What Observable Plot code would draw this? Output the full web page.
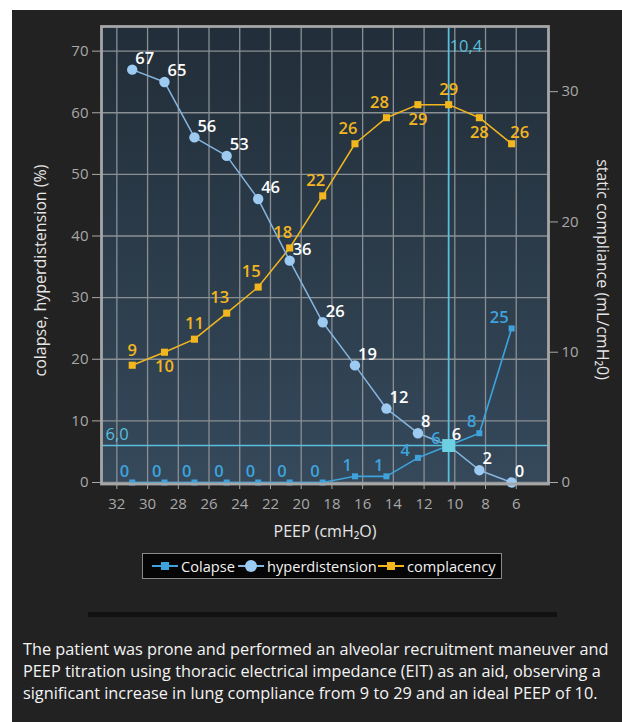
<!DOCTYPE html>
<html>
<head>
<meta charset="utf-8">
<script src="https://cdn.jsdelivr.net/npm/d3@7"></script>
<script src="https://cdn.jsdelivr.net/npm/@observablehq/plot@0.6"></script>
<style>
  html, body { margin: 0; padding: 0; background: #ffffff; }
  body { width: 622px; height: 722px; position: relative; overflow: hidden; font-family: "Open Sans", "Noto Sans", sans-serif; }
  #panel { position: absolute; left: 12px; top: 10px; width: 610px; height: 712px; background: #222222; }
  #chart { position: absolute; left: 0; top: 0; }
  #legend { position: absolute; left: 130px; top: 543px; width: 358px; height: 24px; background: #050505; border: 1px solid #8a8a8a; color: #f2f2f2; font-size: 14.6px; }
  #legend .item { position: absolute; top: 0; height: 24px; display: flex; align-items: center; }
  #legend .item svg { margin-right: 3px; }
  #bar { position: absolute; left: 76px; top: 602px; width: 469px; height: 5px; background: #111111; }
  #caption { position: absolute; left: 11px; top: 628px; width: 600px; color: #f4f4f4; font-size: 16.3px; line-height: 22px; white-space: nowrap; }
</style>
</head>
<body>
<div id="panel">
  <div id="chart"></div>
  <div id="legend"></div>
  <div id="bar"></div>
  <div id="caption"></div>
</div>
<script>
// ---- data ----
const peep = [31, 28.9, 26.95, 24.85, 22.8, 20.75, 18.6, 16.5, 14.45, 12.4, 10.4, 8.4, 6.3];
const colapse = [0, 0, 0, 0, 0, 0, 0, 1, 1, 4, 6, 8, 25];
const hyperdistension = [67, 65, 56, 53, 46, 36, 26, 19, 12, 8, 6, 2, 0];
const complacency = [9, 10, 11, 13, 15, 18, 22, 26, 28, 29, 29, 28, 26];
const xTicks = [32, 30, 28, 26, 24, 22, 20, 18, 16, 14, 12, 10, 8, 6];
const leftTicks = [0, 10, 20, 30, 40, 50, 60, 70];
const rightTicks = [0, 10, 20, 30];
const idealPeep = 10.4;
const idealLevel = 6.0;
const seriesNames = ["Colapse", "hyperdistension", "complacency"];
const xLabel = "PEEP (cmH\u2082O)";
const leftLabel = "colapse, hyperdistension (%)";
const rightLabel = "static compliance (mL/cmH\u20820)";
const captionText = ["The patient was prone and performed an alveolar recruitment maneuver and",
  "PEEP titration using thoracic electrical impedance (EIT) as an aid, observing a",
  "significant increase in lung compliance from 9 to 29 and an ideal PEEP of 10."];

// ---- build ----
const leftMax = 74, rightMax = 35;
const k = leftMax / rightMax; // right axis -> left axis units
const rows = peep.map((p, i) => ({peep: p, colapse: colapse[i], hyper: hyperdistension[i], comp: complacency[i], i}));

// label placement groups (layout only)
const compBelow = new Set([1, 9, 11]);
const compAboveLeft = new Set([3, 4, 5, 6, 7, 8]);
const compAboveRight = new Set([12]);
const compAbove = rows.filter(d => !compBelow.has(d.i) && !compAboveLeft.has(d.i) && !compAboveRight.has(d.i));
const colapseFarLeft = new Set([9, 10]);

const cBlue = "#3ea3dc", cHyper = "#9ccaf0", cHyperLine = "#86b6e0", cGold = "#f3b61f", cCyan = "#58bfdc";
const comma = v => v.toFixed(1).replace(".", ",");
const LF = 16.5; // label font size
const LW = 600;  // label font weight

const chart = Plot.plot({
  width: 610,
  height: 530,
  marginLeft: 89,
  marginRight: 74,
  marginTop: 16,
  marginBottom: 58,
  style: {background: "transparent", fontFamily: "'Open Sans', 'Noto Sans', sans-serif", fontSize: "15px", overflow: "visible"},
  x: {domain: [33, 3.9]},
  y: {domain: [0, leftMax]},
  marks: [
    Plot.frame({fill: "url(#plotbg)", stroke: "none"}),
    Plot.gridX(xTicks, {stroke: "#8a8f94", strokeOpacity: 1, strokeWidth: 1.3}),
    Plot.gridY(leftTicks, {stroke: "#8a8f94", strokeOpacity: 1, strokeWidth: 1.3}),
    Plot.axisX({ticks: xTicks, tickSize: 7, tickPadding: 9, color: "#a8a8a8", label: null, fontSize: 15}),
    Plot.axisY({ticks: leftTicks, tickSize: 9, tickPadding: 4, color: "#a8a8a8", label: null, fontSize: 15}),
    Plot.axisY({anchor: "right", ticks: rightTicks.map(v => v * k), tickFormat: v => Math.round(v / k), tickSize: 9, tickPadding: 4, color: "#a8a8a8", label: null, fontSize: 15}),
    // reference lines
    Plot.ruleY([idealLevel], {stroke: cCyan, strokeWidth: 1.6}),
    Plot.ruleX([idealPeep], {stroke: cCyan, strokeWidth: 1.8}),
    Plot.text([idealLevel], {y: d => d, frameAnchor: "left", text: d => comma(d), textAnchor: "start", dx: 4, dy: -11, fill: cCyan, fontSize: LF, fontWeight: 500}),
    Plot.text([idealPeep], {x: d => d, frameAnchor: "top", lineAnchor: "middle", text: d => comma(d), textAnchor: "start", dx: 1, dy: 20, fill: cCyan, fontSize: LF, fontWeight: 500}),
    // series lines
    Plot.line(rows, {x: "peep", y: d => d.comp * k, stroke: cGold, strokeWidth: 1.5}),
    Plot.line(rows, {x: "peep", y: "hyper", stroke: cHyperLine, strokeWidth: 1.5}),
    Plot.line(rows, {x: "peep", y: "colapse", stroke: cBlue, strokeWidth: 1.6}),
    // markers
    Plot.dot(rows, {x: "peep", y: d => d.comp * k, symbol: "square", r: 4, fill: cGold}),
    Plot.dot(rows, {x: "peep", y: "hyper", r: 5.2, fill: cHyper}),
    Plot.dot(rows, {x: "peep", y: "colapse", symbol: "square", r: 3.4, fill: cBlue}),
    Plot.dot([{x: idealPeep, y: idealLevel}], {x: "x", y: "y", symbol: "square", r: 7.3, fill: "#6ccfe2"}),
    // labels
    Plot.text(compAbove, {x: "peep", y: d => d.comp * k, text: "comp", dy: -15, fill: cGold, fontSize: LF, fontWeight: LW}),
    Plot.text(rows.filter(d => compAboveLeft.has(d.i)), {x: "peep", y: d => d.comp * k, text: "comp", dx: -7, dy: -15, fill: cGold, fontSize: LF, fontWeight: LW}),
    Plot.text(rows.filter(d => compAboveRight.has(d.i)), {x: "peep", y: d => d.comp * k, text: "comp", dx: 8, dy: -11, fill: cGold, fontSize: LF, fontWeight: LW}),
    Plot.text(rows.filter(d => compBelow.has(d.i)), {x: "peep", y: d => d.comp * k, text: "comp", dy: 15, fill: cGold, fontSize: LF, fontWeight: LW}),
    Plot.text(rows, {x: "peep", y: "hyper", text: "hyper", textAnchor: "start", dx: 3, dy: -11, fill: "#ffffff", fontSize: LF, fontWeight: LW}),
    Plot.text(rows.filter(d => !colapseFarLeft.has(d.i)), {x: "peep", y: "colapse", text: "colapse", textAnchor: "end", dx: -3, dy: -11, fill: cBlue, fontSize: LF, fontWeight: LW}),
    Plot.text(rows.filter(d => colapseFarLeft.has(d.i)), {x: "peep", y: "colapse", text: "colapse", textAnchor: "end", dx: -8, dy: -7, fill: cBlue, fontSize: LF, fontWeight: LW}),
    // axis titles
    Plot.text([xLabel], {frameAnchor: "bottom", lineAnchor: "middle", text: d => d, textAnchor: "middle", dy: 49, fill: "#e6e6e6", fontSize: 16}),
    Plot.text([leftLabel], {frameAnchor: "left", text: d => d, textAnchor: "middle", rotate: -90, dx: -61, dy: 16, fill: "#e6e6e6", fontSize: 16}),
    Plot.text([rightLabel], {frameAnchor: "right", text: d => d, textAnchor: "middle", rotate: 90, dx: 54, dy: 15, fill: "#e6e6e6", fontSize: 16}),
    Plot.frame({stroke: "#a6a6a6", strokeWidth: 2.8, insetBottom: -1.5})
  ]
});

// gradient background of the plot area
const ns = "http://www.w3.org/2000/svg";
const defs = document.createElementNS(ns, "defs");
defs.innerHTML = '<linearGradient id="plotbg" x1="0" y1="0" x2="0" y2="1">' +
  '<stop offset="0" stop-color="#222e39"/><stop offset="1" stop-color="#35495b"/></linearGradient>';
chart.insertBefore(defs, chart.firstChild);
document.getElementById("chart").appendChild(chart);

// legend
const legend = document.getElementById("legend");
const swatches = [
  '<svg width="26" height="14"><line x1="0" y1="7" x2="26" y2="7" stroke="' + cBlue + '" stroke-width="2"/><rect x="9" y="3" width="8" height="8" fill="' + cBlue + '"/></svg>',
  '<svg width="26" height="14"><line x1="0" y1="7" x2="26" y2="7" stroke="' + cHyperLine + '" stroke-width="2"/><circle cx="13" cy="7" r="6" fill="' + cHyper + '"/></svg>',
  '<svg width="26" height="14"><line x1="0" y1="7" x2="26" y2="7" stroke="' + cGold + '" stroke-width="2"/><rect x="9" y="3" width="8" height="8" fill="' + cGold + '"/></svg>'
];
const itemLeft = [9, 95, 235];
seriesNames.forEach((name, i) => {
  const item = document.createElement("div");
  item.className = "item";
  item.style.left = itemLeft[i] + "px";
  item.innerHTML = swatches[i] + "<span>" + name + "</span>";
  legend.appendChild(item);
});

// caption
const cap = document.getElementById("caption");
captionText.forEach(line => {
  const div = document.createElement("div");
  div.textContent = line;
  cap.appendChild(div);
});
</script>
</body>
</html>
